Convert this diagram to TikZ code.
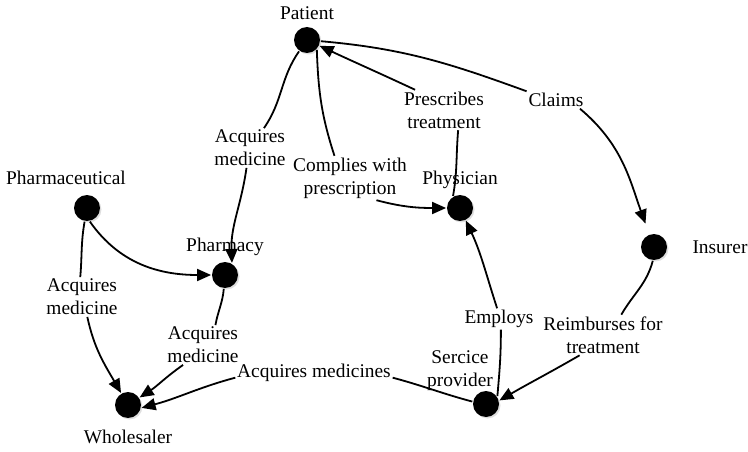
\documentclass[tikz,border=0pt]{standalone}
\usepackage{fontspec}
\setmainfont{Liberation Serif}
\usetikzlibrary{arrows.meta,shadows}

\begin{document}
\begin{tikzpicture}[x=1pt, y=1pt, line width=1.8pt,
    every node/.style={font=\fontsize{19.4}{23}\selectfont},
    actor/.style={circle, fill=black, minimum size=26pt, inner sep=0pt,
        drop shadow={opacity=0.25, shadow xshift=1.5pt, shadow yshift=-1.5pt}},
    rel/.style={fill=white, align=center, inner sep=1pt},
    flow/.style={-{Triangle[length=14pt,width=12pt]}}]
    \useasboundingbox (0,0) rectangle (748,-452);
    % actors
    \node[actor] (patient) at (307,-40) {};
    \node[actor] (pharmaceutical) at (87,-208) {};
    \node[actor] (pharmacy) at (225,-275) {};
    \node[actor] (physician) at (460,-208) {};
    \node[actor] (insurer) at (654,-247) {};
    \node[actor] (wholesaler) at (128,-405) {};
    \node[actor] (provider) at (486,-404) {};
    % names
    \node (patientname) at (307,-13) {Patient};
    \node (pharmaceuticalname) at (66,-178) {Pharmaceutical};
    \node (pharmacyname) at (225,-247) {Pharmacy};
    \node (physicianname) at (460,-180) {Physician};
    \node (insurername) at (720,-247) {Insurer};
    \node (wholesalername) at (128,-437) {Wholesaler};
    \node[align=center] (providername) at (460,-371) {Sercice\\provider};
    % relations
    \node[rel] (acqpharmacy) at (250,-148) {Acquires\\medicine};
    \node[rel] (complies) at (350,-178) {Complies with\\prescription};
    \node[rel] (prescribes) at (444,-110) {Prescribes\\treatment};
    \node[rel] (claims) at (556,-100) {Claims};
    \node[rel] (acqpharma) at (82,-297) {Acquires\\medicine};
    \node[rel] (acqwholesale) at (203,-345) {Acquires\\medicine};
    \node[rel] (acqprovider) at (314,-373) {Acquires medicines};
    \node[rel] (employs) at (499,-319) {Employs};
    \node[rel] (reimburses) at (603,-335) {Reimburses for\\treatment};
    % connectors
    \draw (patient) to[out=-125, in=55] (acqpharmacy);
    \draw[flow] (acqpharmacy.-100) to[out=-98, in=92] (pharmacy.60);
    \draw (patient.-45) to[out=-88, in=108] (complies.125);
    \draw[flow] (complies.-40) to[out=-15, in=180] (physician);
    \draw (physician.120) to[out=80, in=-95] (prescribes.-55);
    \draw[flow] (prescribes.145) to[out=155, in=-25] (patient);
    \draw (patient) to[out=-5, in=160] (claims.north west);
    \draw[flow, shorten >=11pt] (claims.-20) to[out=-40, in=110] (insurer);
    \draw[flow] (pharmaceutical.-78) to[out=-55, in=180] (pharmacy);
    \draw (pharmaceutical.-100) to[out=-100, in=85] (acqpharma.95);
    \draw[flow] (acqpharma.-75) to[out=-78, in=120] (wholesaler);
    \draw (pharmacy.-95) to[out=-95, in=80] (acqwholesale.58);
    \draw[flow] (acqwholesale.-135) to[out=-145, in=33] (wholesaler);
    \draw (provider.170) to[out=165, in=-15] (acqprovider.base east);
    \draw[flow] (acqprovider.base west) to[out=195, in=15] (wholesaler.-12);
    \draw (provider.35) to[out=85, in=-90] (employs.-80);
    \draw[flow] (employs.100) to[out=108, in=-65] (physician);
    \draw (insurer.-95) to[out=-105, in=60] (reimburses.48);
    \draw[flow] (reimburses.-139) to[out=-150, in=30] (provider.15);
\end{tikzpicture}
\end{document}
